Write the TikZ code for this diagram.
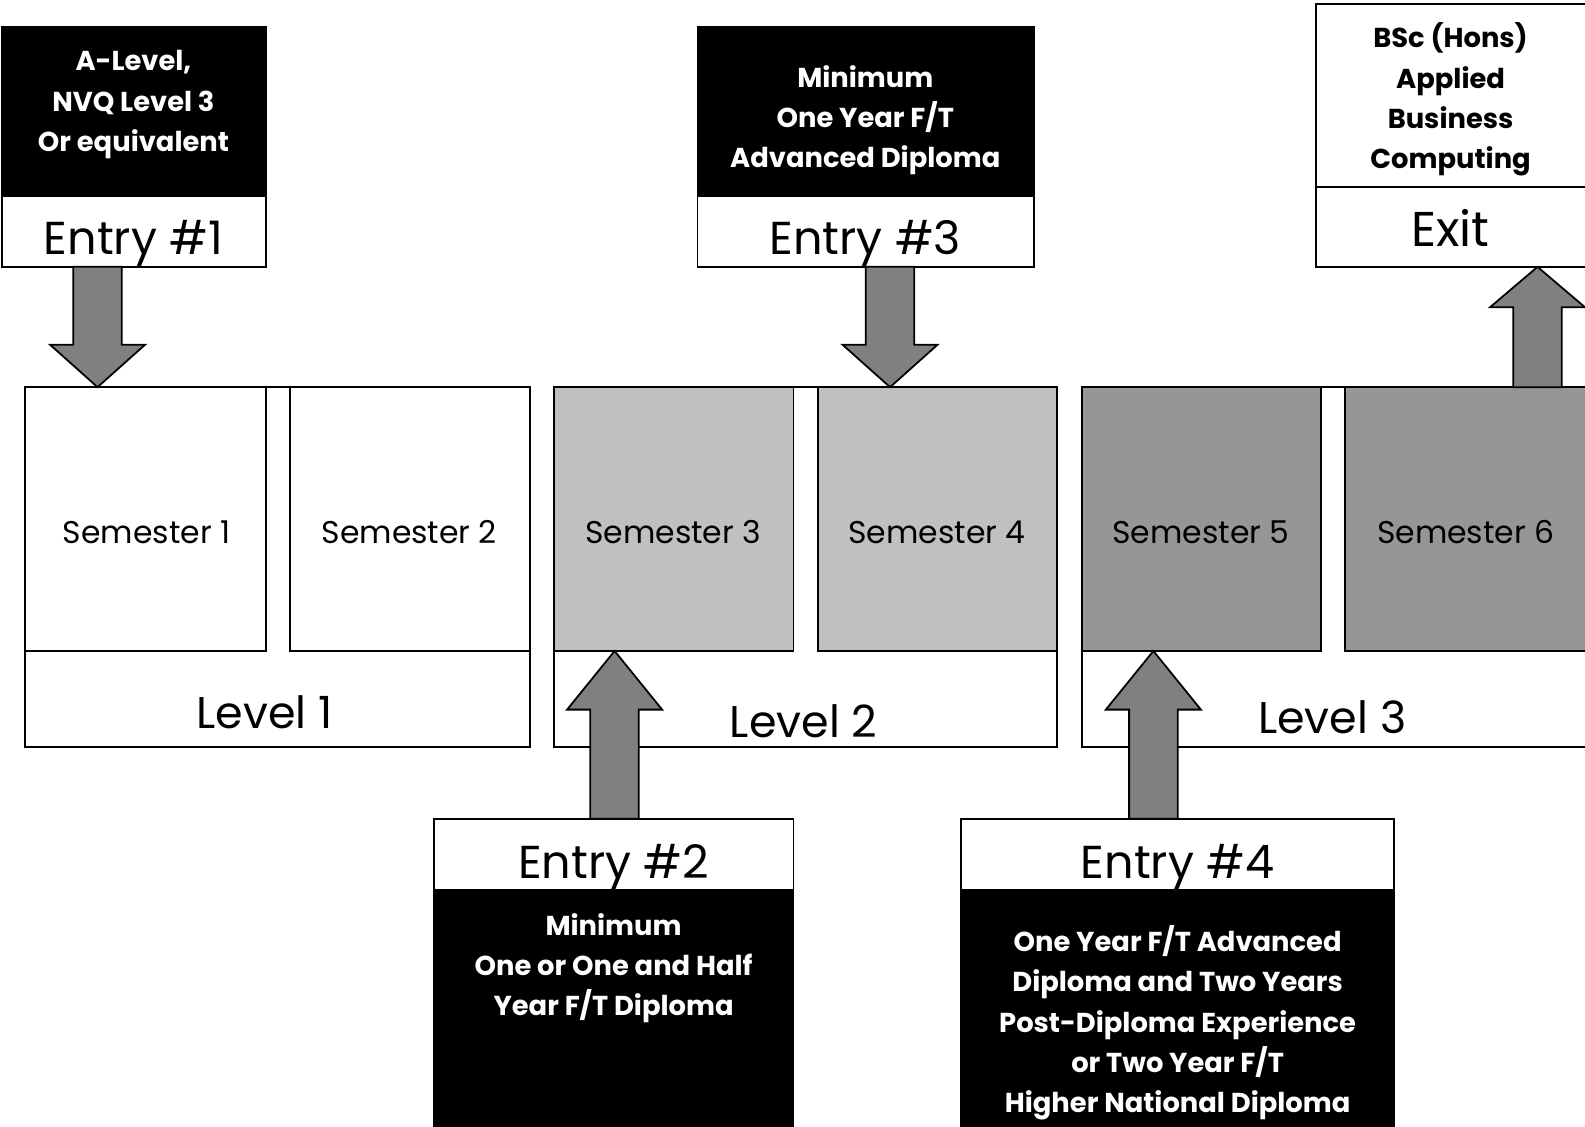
\documentclass[tikz,border=0pt]{standalone}
\usepackage{fontspec}
\setmainfont{Poppins}
\usetikzlibrary{calc}
\definecolor{semlight}{RGB}{192,192,192}
\definecolor{semdark}{RGB}{150,150,150}
\definecolor{arrowgray}{RGB}{128,128,128}
% \pbox{style}{name}{x1}{y1}{x2}{y2}{text}
\newcommand{\pbox}[7]{\node[#1, minimum width={(#5-#3)*0.02cm}, minimum height={(#6-#4)*0.02cm}] (#2) at ({(#3+#5)/2},{(#4+#6)/2}) {#7};}
% \fatarrow{start}{tip}{signed head length}
\newcommand{\fatarrow}[3]{\draw[barrow] ($(#1)+(-24,0)$) -- ($(#2)+(-24,#3)$) -- ($(#2)+(-47,#3)$) -- (#2) -- ($(#2)+(47,#3)$) -- ($(#2)+(24,#3)$) -- ($(#1)+(24,0)$) -- cycle;}
\tikzset{
  boxw/.style={draw=black, line width=1.1pt, rectangle, inner sep=0pt, outer sep=0pt, fill=white},
  boxk/.style={boxw, fill=black},
  boxl/.style={boxw, fill=semlight},
  boxd/.style={boxw, fill=semdark},
  lbl/.style={font=\fontsize{26}{30}\selectfont, anchor=base, inner sep=0pt},
  semtxt/.style={font=\fontsize{17.7}{22}\selectfont, anchor=base, inner sep=0pt},
  lvltxt/.style={font=\fontsize{25}{30}\selectfont, anchor=base, inner sep=0pt},
  info/.style={font=\bfseries\fontsize{15.4}{22.7}\selectfont, align=center, anchor=base, inner sep=0pt},
  infow/.style={info, text=white},
  barrow/.style={draw=black, fill=arrowgray, line width=1pt, line join=miter}
}
\begin{document}
\begin{tikzpicture}[x=0.02cm, y=-0.02cm]
\useasboundingbox (0,0) rectangle (1568,1114);
\clip (0,0) rectangle (1568,1114);
% levels
\pbox{boxw}{L1}{25}{383}{524}{739}{}
\pbox{boxw}{L2}{548}{383}{1046}{739}{}
\pbox{boxw}{L3}{1070}{383}{1570}{739}{}
\node[lvltxt] (L1t) at (262,721) {Level 1};
\node[lvltxt] (L2t) at (795,730) {Level 2};
\node[lvltxt] (L3t) at (1318,726) {Level 3};
% semesters
\pbox{boxw}{s1}{25}{383}{263}{644}{}
\pbox{boxw}{s2}{287}{383}{524}{644}{}
\pbox{boxl}{s3}{548}{383}{785}{644}{}
\pbox{boxl}{s4}{809}{383}{1046}{644}{}
\pbox{boxd}{s5}{1070}{383}{1307}{644}{}
\pbox{boxd}{s6}{1331}{383}{1570}{644}{}
\node[semtxt] (s1t) at (145,538) {Semester 1};
\node[semtxt] (s2t) at (405,538) {Semester 2};
\node[semtxt] (s3t) at (666,538) {Semester 3};
\node[semtxt] (s4t) at (927,538) {Semester 4};
\node[semtxt] (s5t) at (1188,538) {Semester 5};
\node[semtxt] (s6t) at (1450,538) {Semester 6};
% entry 1
\pbox{boxk}{e1top}{2}{27}{263}{194}{}
\pbox{boxw}{e1}{2}{194}{263}{264}{}
\node[lbl] (e1t) at (132,252) {Entry \#1};
\node[infow] (e1i) at (132,150) {A-Level,\\NVQ Level 3\\Or equivalent};
% entry 3
\pbox{boxk}{e3top}{690}{27}{1023}{194}{}
\pbox{boxw}{e3}{690}{194}{1023}{264}{}
\node[lbl] (e3t) at (856,252) {Entry \#3};
\node[infow] (e3i) at (856,166) {Minimum\\One Year F/T\\Advanced Diploma};
% exit
\pbox{boxw}{extop}{1302}{4}{1570}{185}{}
\pbox{boxw}{ex}{1302}{185}{1570}{264}{}
\node[lbl, font=\fontsize{27.5}{32}\selectfont] (ext) at (1435,244) {Exit};
\node[info] (exi) at (1435,167) {BSc (Hons)\\Applied\\Business\\Computing};
% entry 2
\pbox{boxw}{e2}{429}{810}{785}{880}{}
\pbox{boxk}{e2bot}{429}{880}{785}{1130}{}
\node[lbl] (e2t) at (607,869) {Entry \#2};
\node[infow] (e2i) at (607,1005) {Minimum\\One or One and Half\\Year F/T Diploma};
% entry 4
\pbox{boxw}{e4}{951}{810}{1379}{880}{}
\pbox{boxk}{e4bot}{951}{880}{1379}{1130}{}
\node[lbl] (e4t) at (1165,869) {Entry \#4};
\node[infow] (e4i) at (1165,1101) {One Year F/T Advanced\\Diploma and Two Years\\Post-Diploma Experience\\or Two Year F/T\\Higher National Diploma};
% arrows
\coordinate (a1s) at ($(e1.south)+(-36,0)$);
\coordinate (a1t) at ($(s1.north west)+(71.5,0)$);
\fatarrow{a1s}{a1t}{-42}
\coordinate (a3s) at ($(e3.south)+(24,0)$);
\coordinate (a3t) at ($(s4.north)+(-47,0)$);
\fatarrow{a3s}{a3t}{-42}
\coordinate (a5s) at ($(s6.north)+(70.5,0)$);
\coordinate (a5t) at ($(ex.south)+(85,0)$);
\fatarrow{a5s}{a5t}{40}
\coordinate (a2s) at ($(e2.north)+(1,0)$);
\coordinate (a2t) at ($(s3.south)+(-58.5,0)$);
\fatarrow{a2s}{a2t}{58}
\coordinate (a4s) at ($(e4.north)+(-24,0)$);
\coordinate (a4t) at ($(s5.south)+(-47.5,0)$);
\fatarrow{a4s}{a4t}{58}
\end{tikzpicture}
\end{document}
